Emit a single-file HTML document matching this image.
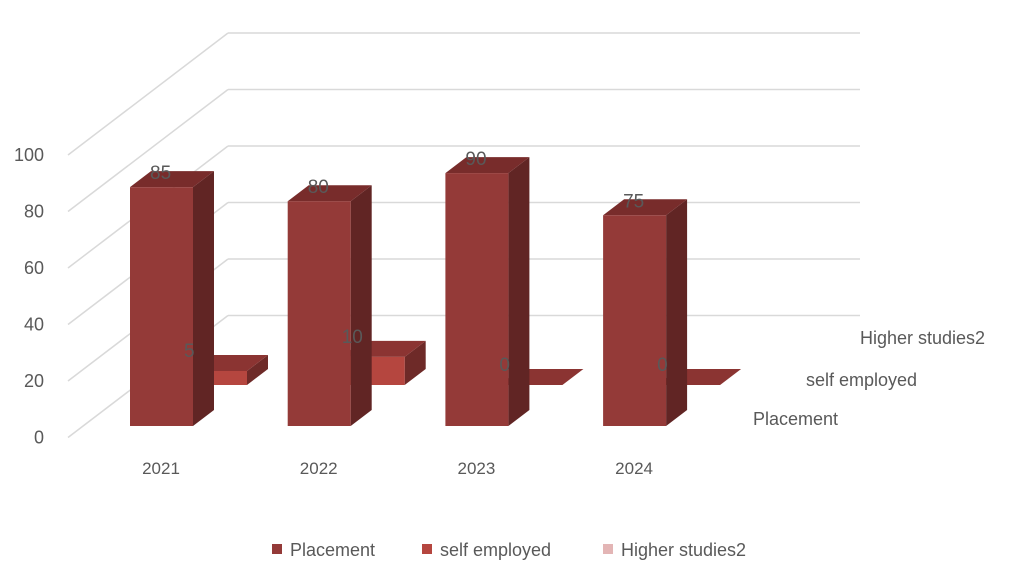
<!DOCTYPE html>
<html><head><meta charset="utf-8"><style>
body{margin:0;background:#fff}
svg text{font-family:"Liberation Sans",sans-serif;fill:#595959}
</style></head><body>
<svg id="chart" width="1024" height="582" viewBox="0 0 1024 582" xmlns="http://www.w3.org/2000/svg">
<g id="grid"></g>
<g id="bars"></g>
<g id="labels"></g>
<g font-size="18">
<rect x="272" y="544" width="10" height="10" fill="#943a38"/>
<text x="290" y="556">Placement</text>
<rect x="422" y="544" width="10" height="10" fill="#b5463f"/>
<text x="440" y="556">self employed</text>
<rect x="603" y="544" width="10" height="10" fill="#e3b5b5"/>
<text x="621" y="556">Higher studies2</text>
</g>
</svg>
<script>
const categories = ["2021","2022","2023","2024"];
const placement = [85,80,90,75];
const selfEmployed = [5,10,0,0];
const higherStudies = [0,0,0,0];
const yTicks = [0,20,40,60,80,100];
const seriesNames = ["Placement","self employed","Higher studies2"];

const NS="http://www.w3.org/2000/svg";
const grid=document.getElementById('grid'), bars=document.getElementById('bars'), labels=document.getElementById('labels');
function mk(tag,attrs,parent){const e=document.createElementNS(NS,tag);for(const k in attrs)e.setAttribute(k,attrs[k]);parent.appendChild(e);return e;}
// axes
const unit=2.81; // px per value unit on bars
function yFront(v){return 437.5-v*2.825;}
function xCat(i){return 130+i*157.7;}
const depthDx=54, depthDy=-41;
// gridlines
yTicks.forEach(t=>{
  const y=yFront(t);
  const l1=mk('line',{x1:68,y1:y,x2:228,y2:y-122,stroke:'#d9d9d9','stroke-width':1.5},grid);
  
  
  const l2=mk('line',{x1:228,y1:y-122,x2:860,y2:y-122,stroke:'#d9d9d9','stroke-width':1.5},grid);
  
  
  const tx=mk('text',{x:44,y:y+6,'font-size':18,'text-anchor':'end'},labels);
  tx.textContent=t;
  
  
});
const palettes=[
  {front:'#943a38',side:'#612524',top:'#782c2b'},
  {front:'#b5463f',side:'#6e2a28',top:'#8b3432'},
  {front:'#e3b5b5',side:'#b88',top:'#d0a0a0'}];
const series=[placement,selfEmployed,higherStudies];
const W=63, dx=21, dy=-16;
function drawBar(x,base,v,p,name){
  const h=v*unit, top=base-h;
  const g=mk('g',{},bars);
  
  
  mk('polygon',{points:`${x+W},${base} ${x+W+dx},${base+dy} ${x+W+dx},${top+dy} ${x+W},${top}`,fill:p.side},g);
  mk('polygon',{points:`${x},${top} ${x+dx},${top+dy} ${x+W+dx},${top+dy} ${x+W},${top}`,fill:p.top},g);
  if(h>0) mk('rect',{x:x,y:top,width:W,height:h,fill:p.front},g);
  return top;
}
for(let s=2;s>=0;s--){
  if(s===2) continue; // higher studies all zero & hidden in reference
  categories.forEach((c,i)=>{
    const x=xCat(i)+s*depthDx, base=426+s*depthDy;
    const v=series[s][i];
    const top=drawBar(x,base,v,palettes[s],'bar-'+['placement','self-employed','higher'][s]+'-'+c);
    const t=mk('text',{x:x+(s===0?20:0),y:top-(s===0?8:14)+ (s===0?0:0),'font-size':19,fill:'#404040'},labels);
    t.textContent=v;
    
    
  });
}
categories.forEach((c,i)=>{
  const t=mk('text',{x:xCat(i)+31,y:474,'font-size':17,'text-anchor':'middle'},labels);
  t.textContent=c;
  
  
});
const sPos=[[753,425],[806,386],[860,344]];
seriesNames.forEach((n,i)=>{
  const t=mk('text',{x:sPos[i][0],y:sPos[i][1],'font-size':18},labels);
  t.textContent=n;
  
  
});
</script>
</body></html>
